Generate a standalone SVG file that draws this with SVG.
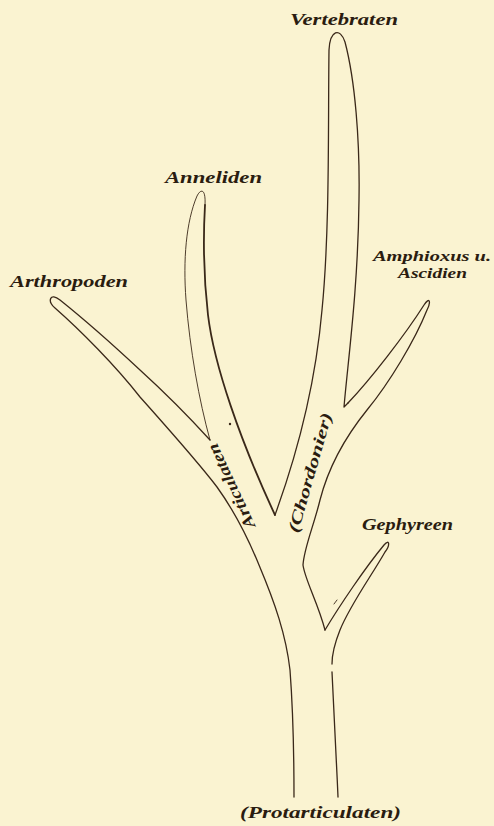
<svg xmlns="http://www.w3.org/2000/svg" width="494" height="826" viewBox="0 0 494 826">
<style>
.ln{fill:none;stroke:#3a2819;stroke-width:1.3;stroke-linecap:round;stroke-linejoin:round}
.th{stroke-width:0.9}
.bd{stroke-width:1.8}
.lb{font-family:"Liberation Serif","Times New Roman",serif;font-style:italic;font-weight:bold;font-size:16px;fill:#2a1c10}
.sm{font-size:14px}
</style>
<rect width="494" height="826" fill="#FAF3D1"/>
<g id="connectors">
<path id="arthropoden-branch" class="ln" d="M210,440 C190,418 162,390 140,370 C110,342 80,316 60,300 C50,292 47,301 55,308 C80,330 115,365 140,397 C172,433 198,462 217,487 C235,512 248,538 259,565 C275,603 286,635 290,670 C293,710 294,760 294,797"/>
<path id="anneliden-left" class="ln th" d="M210,440 C199,400 190,350 186,300 C183,260 186,222 197,196 C201,188 206,189 205,205"/>
<path id="anneliden-right" class="ln bd" d="M205,205 C203,240 204,280 208,315 C214,365 240,440 275,515"/>
<path id="vertebraten-branch" class="ln" d="M275,515 C295,460 315,390 322,310 C330,230 328,120 329,50 C330,30 340,27 345,42 C355,80 360,140 359,200 C358,290 348,360 344,407 L348,403"/>
<path id="amphioxus-branch" class="ln" d="M348,403 C370,380 405,335 424,305 C430,296 431,302 427,310 C415,340 390,382 367,410 C346,436 329,465 320,500 C314,525 304,548 303,565 C305,580 318,603 325,630"/>
<path id="gephyreen-branch" class="ln" d="M325,630 C340,605 365,568 384,545 C390,538 390,546 385,552 C372,575 350,605 340,630 C334,645 332,655 332,664 M332,672 C333,700 336,750 338,797"/>
<circle cx="230" cy="424" r="1.2" fill="#3a2819"/>
<path class="ln th" d="M334,604 L337,600"/>
</g>
<g id="vertebraten"><text class="lb" x="290" y="25" textLength="108" lengthAdjust="spacingAndGlyphs">Vertebraten</text></g>
<g id="anneliden"><text class="lb" x="165" y="183" textLength="97" lengthAdjust="spacingAndGlyphs">Anneliden</text></g>
<g id="arthropoden"><text class="lb" x="10" y="287" textLength="118" lengthAdjust="spacingAndGlyphs">Arthropoden</text></g>
<g id="amphioxus"><text class="lb sm" x="373" y="261" textLength="118" lengthAdjust="spacingAndGlyphs">Amphioxus u.</text><text class="lb sm" x="398" y="278" textLength="69" lengthAdjust="spacingAndGlyphs">Ascidien</text></g>
<g id="gephyreen"><text class="lb" x="362" y="530" textLength="91" lengthAdjust="spacingAndGlyphs">Gephyreen</text></g>
<g id="articulaten"><text class="lb" transform="translate(236,484) rotate(-115)" text-anchor="middle" textLength="92" lengthAdjust="spacingAndGlyphs">Articulaten</text></g>
<g id="chordonier"><text class="lb" transform="translate(315,474) rotate(-74)" text-anchor="middle" textLength="124" lengthAdjust="spacingAndGlyphs">(Chordonier)</text></g>
<g id="protarticulaten"><text class="lb" x="240" y="818" textLength="161" lengthAdjust="spacingAndGlyphs">(Protarticulaten)</text></g>
</svg>
